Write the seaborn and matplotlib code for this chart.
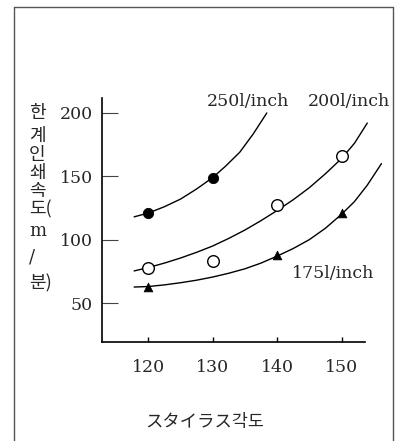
import matplotlib
matplotlib.use("Agg")
import matplotlib.pyplot as plt
import seaborn as sns
import pandas as pd
from matplotlib.lines import Line2D

# ---- data ----
angles_250 = [120, 130]
speed_250 = [121, 149]
angles_200 = [120, 130, 140, 150]
speed_200 = [78, 83, 127, 166]
angles_175 = [120, 140, 150]
speed_175 = [63, 88, 121]

curve_250_x = [117.8, 120, 122.5, 125, 127.5, 130, 132, 134.2, 136.3, 138.4]
curve_250_y = [118, 121, 126, 132, 140, 149, 158, 169, 183.5, 200]
curve_200_x = [117.8, 120, 122.5, 125, 127.5, 130, 132.5, 135, 137.5, 140, 142.5, 145, 147.5, 150, 152, 154]
curve_200_y = [75.3, 78, 81.5, 85.5, 90, 95, 101, 107.6, 115, 123, 131.5, 141, 152, 164, 176, 192]
curve_175_x = [117.8, 120, 122.5, 125, 127.5, 130, 132.5, 135, 137.5, 140, 142.5, 145, 147.5, 150, 152, 154, 156.2]
curve_175_y = [62.6, 63, 64.3, 66, 68, 70.5, 73.5, 77, 81.5, 87, 93, 100, 109, 120, 130, 143, 160]

x_ticks = [120, 130, 140, 150]
y_ticks = [50, 100, 150, 200]
series_labels = ["250l/inch", "200l/inch", "175l/inch"]
x_label = "スタイラス각도"
y_label_chars = ["한", "계", "인", "쇄", "속", "도(", "m", "/", "분)"]

sns.set_theme(style="white")
plt.rcParams["font.family"] = ["DejaVu Serif"]

W, H = 398, 441
fig = plt.figure(figsize=(W / 100, H / 100), dpi=100)
ax = fig.add_axes([102 / W, (H - 342) / H, 284.6 / W, 244 / H])

lw = 1.0
for cx, cy in [(curve_250_x, curve_250_y), (curve_200_x, curve_200_y), (curve_175_x, curve_175_y)]:
    df = pd.DataFrame({"x": cx, "y": cy})
    sns.lineplot(data=df, x="x", y="y", ax=ax, color="black", lw=lw, sort=False,
                 estimator=None, clip_on=False)

sns.scatterplot(x=angles_250, y=speed_250, ax=ax, marker="o", s=55, color="black",
                edgecolor="black", zorder=5, clip_on=False)
sns.scatterplot(x=angles_200, y=speed_200, ax=ax, marker="o", s=70, facecolor="white",
                edgecolor="black", linewidth=1.0, zorder=5, clip_on=False)
sns.scatterplot(x=angles_175, y=speed_175, ax=ax, marker="^", s=40, color="black",
                edgecolor="black", zorder=5, clip_on=False)

ax.set_xlim(112.81, 157)
ax.set_ylim(19.22, 211.8)
ax.set_xticks(x_ticks)
ax.set_yticks(y_ticks)
ax.set_xticklabels([str(v) for v in x_ticks], fontsize=12.5)
ax.set_yticklabels([str(v) for v in y_ticks], fontsize=12.5)
ax.set_xlabel("")
ax.set_ylabel("")
for s in ["top", "right"]:
    ax.spines[s].set_visible(False)
for s in ["left", "bottom"]:
    ax.spines[s].set_color("black")
    ax.spines[s].set_linewidth(1.2)
ax.spines["bottom"].set_bounds(112.81, 153.6)
ax.tick_params(axis="y", direction="in", length=11.5, width=0.8, color="#444444", pad=6.5, left=True)
ax.tick_params(axis="x", direction="in", length=3.6, width=1.0, color="black", pad=12, bottom=True)
ax.set_facecolor("white")
ax.grid(False)

# series labels
fig.text(207 / W, 1 - 101 / H, series_labels[0], fontsize=12.5, va="center", ha="left")
fig.text(308 / W, 1 - 101 / H, series_labels[1], fontsize=12.5, va="center", ha="left")
fig.text(292 / W, 1 - 273 / H, series_labels[2], fontsize=12.5, va="center", ha="left")

# axis labels
fig.text(205 / W, 1 - 422 / H, x_label, fontsize=12.5, ha="center", va="center",
         family=["Noto Sans CJK KR", "DejaVu Sans"])
y_pos = [113, 136, 155, 173, 191, 209, 231, 258, 283]
for ch, yp in zip(y_label_chars, y_pos):
    fam = ["DejaVu Serif"] if ch in ("m", "/") else ["Noto Sans CJK KR", "DejaVu Sans"]
    fig.text(29 / W, 1 - yp / H, ch, fontsize=13, ha="left", va="center", family=fam)

# outer frame (left, top, right)
frame_kw = dict(color="#555555", lw=1.0, transform=fig.transFigure)
fig.add_artist(Line2D([14 / W, 14 / W], [0, 1 - 7 / H], **frame_kw))
fig.add_artist(Line2D([14 / W, 393 / W], [1 - 7 / H, 1 - 7 / H], **frame_kw))
fig.add_artist(Line2D([393 / W, 393 / W], [0, 1 - 7 / H], **frame_kw))

fig.savefig("out.png", dpi=100, facecolor="white")
